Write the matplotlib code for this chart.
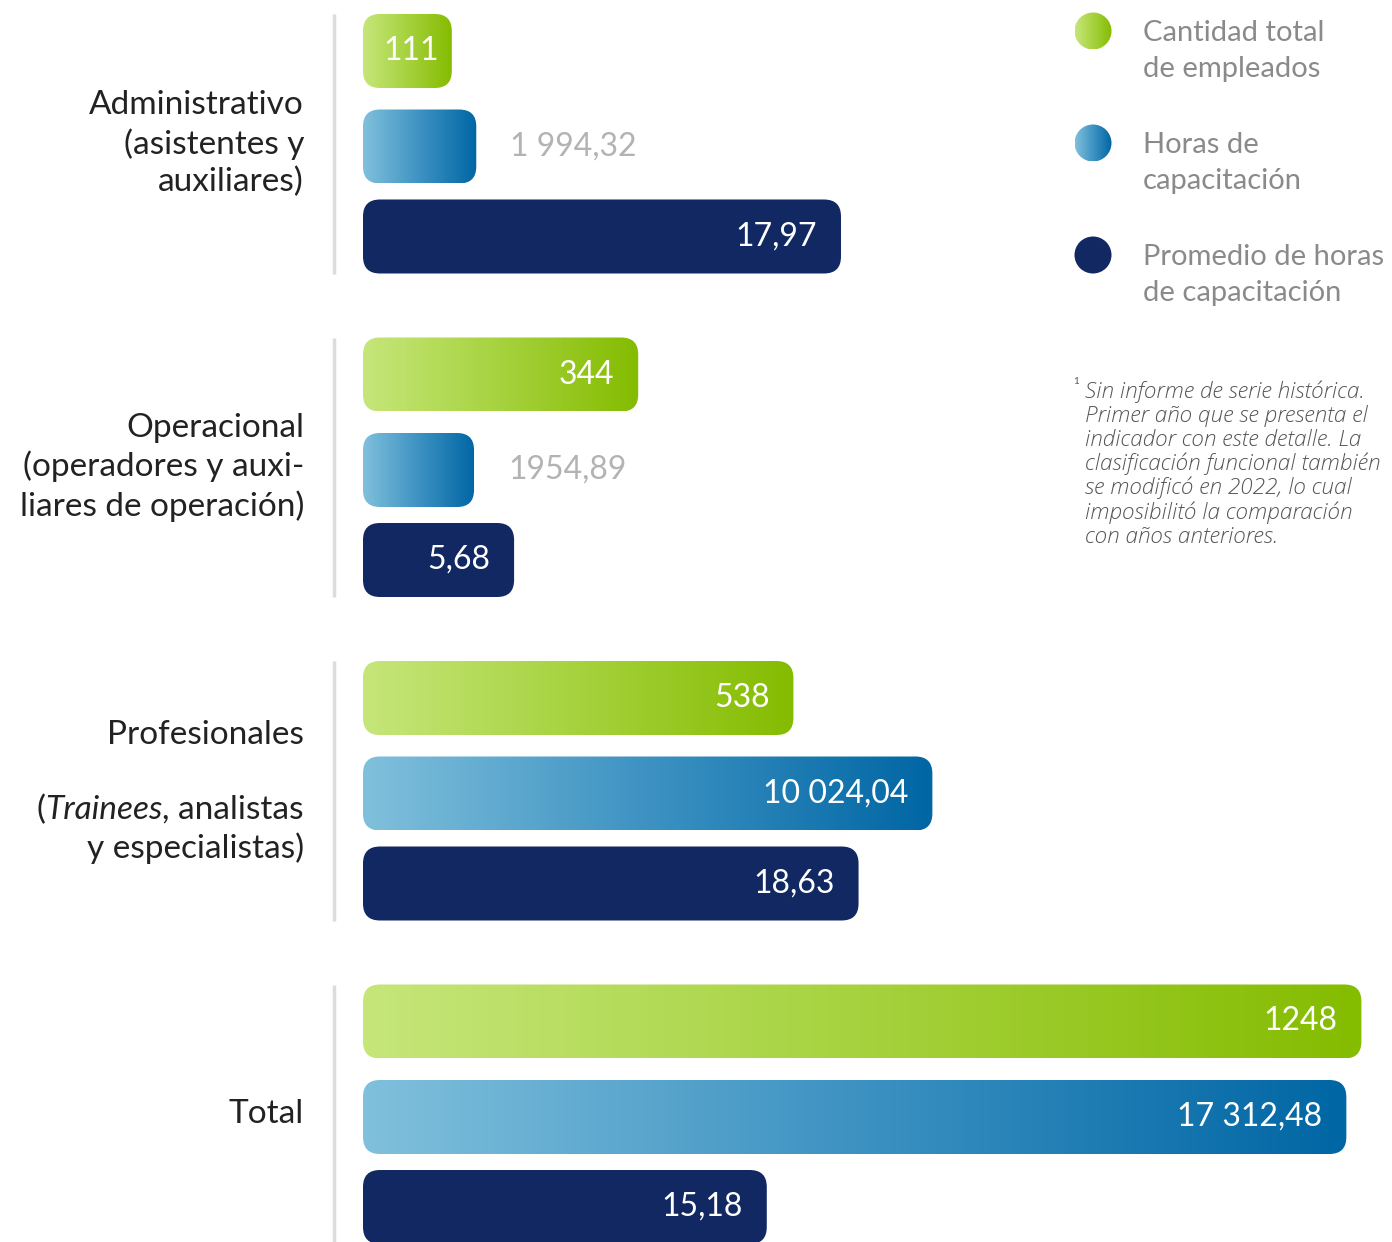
import numpy as np
import matplotlib
matplotlib.use("Agg")
from matplotlib import pyplot as plt
from matplotlib.patches import FancyBboxPatch, Circle
from matplotlib.colors import LinearSegmentedColormap
from matplotlib.offsetbox import TextArea, HPacker, AnnotationBbox

plt.rcParams['font.family'] = ['Lato', 'DejaVu Sans']

# datos
categories = ['Administrativo\n(asistentes y\nauxiliares)',
              'Operacional\n(operadores y auxi-\nliares de operación)',
              'Profesionales',
              'Total']
empleados = [111, 344, 538, 1248]
horas = [1994.32, 1954.89, 10024.04, 17312.48]
promedio = [17.97, 5.68, 18.63, 15.18]
empleados_txt = ['111', '344', '538', '1248']
horas_txt = ['1 994,32', '1954,89', '10 024,04', '17 312,48']
promedio_txt = ['17,97', '5,68', '18,63', '15,18']
legend_labels = ['Cantidad total\nde empleados', 'Horas de\ncapacitación',
                 'Promedio de horas\nde capacitación']
footnote = ('Sin informe de serie histórica.\nPrimer año que se presenta el\n'
            'indicador con este detalle. La\nclasificación funcional también\n'
            'se modificó en 2022, lo cual\nimposibilitó la comparación\n'
            'con años anteriores.')

# estilo
green = LinearSegmentedColormap.from_list('g', ['#c6e67a', '#a6d23e', '#84bc00'])
blue = LinearSegmentedColormap.from_list('b', ['#80c0dc', '#3d92c2', '#0066a4'])
navy = '#112862'
scales = [0.8, 0.0568, 26.6]   # px por unidad en cada serie
label_kw = dict(fontsize=24, color='#222222')

fig = plt.figure(figsize=(13.92, 12.42), dpi=100)
ax = fig.add_axes([0, 0, 1, 1])
ax.set_xlim(0, 1392)
ax.set_ylim(1242, 0)
ax.axis('off')

x0 = 363
bar_h = 74
group_step = 323.5
offsets = [14, 109.5, 199.5]
grad = np.linspace(0, 1, 256).reshape(1, -1)


def bar(x, y, w, fill):
    patch = FancyBboxPatch((x, y), w, bar_h, boxstyle='round,pad=0,rounding_size=17',
                           facecolor=fill if isinstance(fill, str) else 'none',
                           edgecolor='none', zorder=2)
    ax.add_patch(patch)
    if not isinstance(fill, str):
        im = ax.imshow(grad, cmap=fill, extent=(x, x + w, y + bar_h, y),
                       aspect='auto', zorder=2)
        im.set_clip_path(patch)


series = [(empleados, empleados_txt, green),
          (horas, horas_txt, blue),
          (promedio, promedio_txt, navy)]

for i in range(len(categories)):
    top = i * group_step
    for j, (vals, txts, fill) in enumerate(series):
        y = top + offsets[j]
        w = vals[i] * scales[j]
        bar(x0, y, w, fill)
        if w > 140:
            ax.text(x0 + w - 24, y + bar_h / 2, txts[i], color='white', fontsize=23,
                    ha='right', va='center', zorder=3)
        elif j == 0:
            ax.text(x0 + w / 2 + 4, y + bar_h / 2, txts[i], color='white', fontsize=23,
                    ha='center', va='center', zorder=3)
        else:
            ax.text(x0 + w + 34, y + bar_h / 2, txts[i], color='#b3b3b3', fontsize=23,
                    ha='left', va='center', zorder=3)
    # separador
    ax.plot([334, 334], [top + offsets[0], top + offsets[2] + bar_h], color='#dcdcdc',
            lw=2.5, solid_capstyle='butt')
    # etiqueta de categoría
    yc = top + (offsets[0] + offsets[2] + bar_h) / 2
    if i == 2:
        ax.text(304, yc - 56, categories[i], ha='right', va='center', **label_kw)
        row = HPacker(children=[TextArea('(', textprops=label_kw),
                                TextArea('Trainees', textprops=dict(style='italic', **label_kw)),
                                TextArea(', analistas', textprops=label_kw)],
                      align='baseline', pad=0, sep=0)
        ab = AnnotationBbox(row, (304, yc + 19), xycoords='data', box_alignment=(1, 0.5),
                            frameon=False, pad=0)
        ax.add_artist(ab)
        ax.text(304, yc + 57, 'y especialistas)', ha='right', va='center', **label_kw)
    else:
        ax.text(304, yc, categories[i], ha='right', va='center', linespacing=1.31, **label_kw)

# leyenda
for k, (lab, fill) in enumerate(zip(legend_labels, [green, blue, navy])):
    cy = 31 + k * 112
    circ = Circle((1093, cy), 18.5, facecolor=fill if isinstance(fill, str) else 'none',
                  edgecolor='none')
    ax.add_patch(circ)
    if not isinstance(fill, str):
        im = ax.imshow(grad, cmap=fill, extent=(1074.5, 1111.5, cy + 18.5, cy - 18.5),
                       aspect='auto')
        im.set_clip_path(circ)
    ax.text(1143, cy + 20, lab, fontsize=21, color='#8a8a8a',
            ha='left', va='center', linespacing=1.45)

# nota
ax.text(1073, 381, '1', fontsize=7, color='#555555', ha='left', va='center')
ax.text(1085, 464, footnote, fontsize=16.2, color='#555555', style='italic',
        family=['Open Sans', 'DejaVu Sans'], fontweight='light',
        ha='left', va='center', linespacing=1.11)

ax.set_xlim(0, 1392)
ax.set_ylim(1242, 0)
fig.savefig('out.png', dpi=100)
